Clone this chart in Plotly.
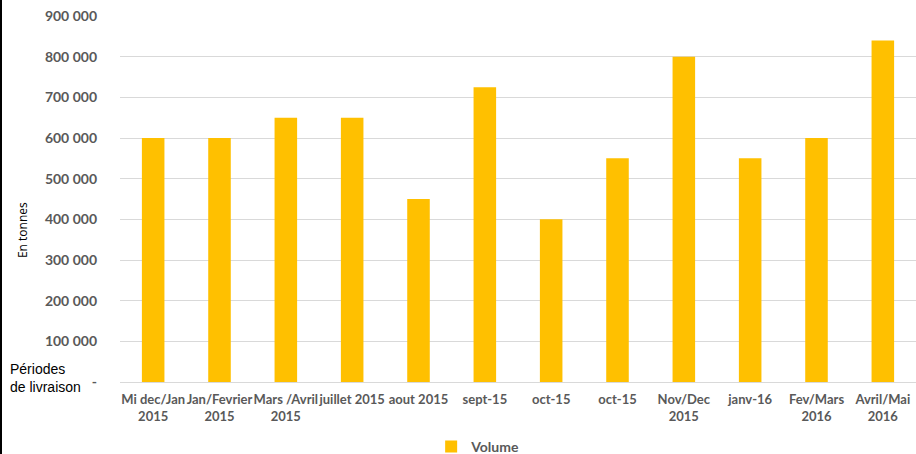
import plotly.graph_objects as go

# Delivery periods and volumes (tonnes)
periods = [
    "Mi dec/Jan<br>2015", "Jan/Fevrier<br>2015", "Mars /Avril<br>2015",
    "juillet 2015", "aout 2015", "sept-15", "oct-15", "oct-15",
    "Nov/Dec<br>2015", "janv-16", "Fev/Mars<br>2016", "Avril/Mai<br>2016",
]
volumes = [600000, 600000, 650000, 650000, 450000, 725000,
           400000, 550000, 800000, 550000, 600000, 840000]
y_ticks = [0, 100000, 200000, 300000, 400000, 500000, 600000, 700000, 800000, 900000]
y_tick_text = ["-", "100 000", "200 000", "300 000", "400 000", "500 000",
               "600 000", "700 000", "800 000", "900 000"]

positions = list(range(len(periods)))
gold = "#FFC000"
label_gray = "#595959"
font_family = "Lato, 'Open Sans', sans-serif"

fig = go.Figure(go.Bar(
    x=positions, y=volumes, name="Volume",
    marker=dict(color=gold, line=dict(width=0)),
    width=0.34,
))

W, H = 916, 454
ml, mr, mt, mb = 120, 0, 16, 72

fig.update_layout(
    width=W, height=H,
    margin=dict(l=ml, r=mr, t=mt, b=mb, autoexpand=False),
    paper_bgcolor="white", plot_bgcolor="white",
    font=dict(family=font_family, color=label_gray),
    showlegend=True,
    legend=dict(
        orientation="h", xref="container", yref="container",
        x=0.522, xanchor="center", y=7 / H, yanchor="middle",
        font=dict(size=14, color=label_gray, family=font_family, weight="bold"),
        itemwidth=30,
    ),
    xaxis=dict(
        tickmode="array", tickvals=positions, ticktext=periods,
        range=[-0.5, len(periods) - 0.5],
        showgrid=False, zeroline=False, showline=False,
        ticks="", tickangle=0, automargin=False, ticklabelstandoff=8,
        tickfont=dict(size=13, color=label_gray, family=font_family, weight="bold"),
    ),
    yaxis=dict(
        range=[0, 900000], automargin=False,
        tickmode="array", tickvals=y_ticks, ticktext=y_tick_text,
        showgrid=True, gridcolor="#d9d9d9", gridwidth=1,
        zeroline=True, zerolinecolor="#d9d9d9", zerolinewidth=1,
        showline=False, ticks="", ticklabelstandoff=22,
        tickfont=dict(size=14, color=label_gray, family=font_family, weight="bold"),
    ),
    annotations=[
        dict(text="En tonnes", xref="paper", yref="paper",
             x=-(ml - 22) / (W - ml - mr), y=0.415, xanchor="center", yanchor="middle",
             textangle=-90, showarrow=False,
             font=dict(size=12, color="#000000", family="'Open Sans', sans-serif")),
        dict(text="Périodes<br>de livraison", xref="paper", yref="paper",
             x=-(ml - 8) / (W - ml - mr), y=0.012, xanchor="left", yanchor="middle",
             align="left", showarrow=False,
             font=dict(size=14, color="#000000", family="'Liberation Sans', Arial, sans-serif")),
    ],
    shapes=[
        dict(type="rect", xref="paper", yref="paper",
             x0=-ml / (W - ml - mr), x1=-(ml - 2) / (W - ml - mr),
             y0=-mb / (H - mt - mb), y1=1 + mt / (H - mt - mb),
             fillcolor="#000000", line=dict(width=0), layer="above"),
    ],
)

fig.write_html("out.html")
